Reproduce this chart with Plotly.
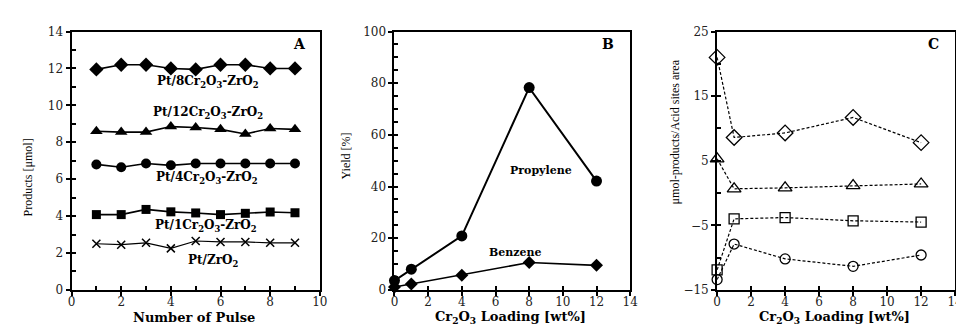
import plotly.graph_objects as go

# ---------------- Data ----------------
pulse = [1, 2, 3, 4, 5, 6, 7, 8, 9]
a_8cr = [11.95, 12.2, 12.2, 12.0, 11.95, 12.2, 12.2, 12.0, 12.0]
a_12cr = [8.6, 8.55, 8.55, 8.85, 8.8, 8.7, 8.45, 8.75, 8.7]
a_4cr = [6.8, 6.65, 6.85, 6.75, 6.85, 6.85, 6.85, 6.85, 6.85]
a_1cr = [4.08, 4.08, 4.36, 4.23, 4.17, 4.08, 4.15, 4.22, 4.18]
a_zro2 = [2.5, 2.45, 2.55, 2.25, 2.65, 2.6, 2.6, 2.55, 2.55]
a_labels = ["Pt/8Cr<sub>2</sub>O<sub>3</sub>-ZrO<sub>2</sub>",
            "Pt/12Cr<sub>2</sub>O<sub>3</sub>-ZrO<sub>2</sub>",
            "Pt/4Cr<sub>2</sub>O<sub>3</sub>-ZrO<sub>2</sub>",
            "Pt/1Cr<sub>2</sub>O<sub>3</sub>-ZrO<sub>2</sub>",
            "Pt/ZrO<sub>2</sub>"]
a_label_x = [5.5, 5.5, 5.45, 5.4, 5.7]
a_label_y = [11.27, 9.57, 6.08, 3.45, 1.59]

loading = [0, 1, 4, 8, 12]
b_propylene = [3.6, 8.0, 20.9, 78.3, 42.1]
b_benzene = [1.1, 2.3, 5.7, 10.6, 9.5]

c_diamond = [21.0, 8.6, 9.3, 11.7, 7.8]
c_triangle = [5.3, 0.65, 0.8, 1.15, 1.4]
c_square = [-11.9, -4.0, -3.8, -4.3, -4.5]
c_circle = [-13.4, -7.9, -10.2, -11.35, -9.6]

# ---------------- Layout helpers ----------------
W, H = 964, 324
SERIF = "Liberation Serif, Times New Roman, serif"
WIDE = "DejaVu Serif, serif"
top_px, bot_px = 17.3, 287.3
ydom = [1 - bot_px / H, 1 - top_px / H]
xdoms = [[60.3 / W, 311.7 / W], [387.3 / W, 626 / W], [714 / W, 955 / W]]

fig = go.Figure()

line_k = dict(color="black", width=1.6)

# Panel A
fig.add_trace(go.Scatter(x=pulse, y=a_8cr, mode="lines+markers", line=line_k,
                         marker=dict(symbol="diamond", size=11, color="black"),
                         xaxis="x", yaxis="y", cliponaxis=False))
fig.add_trace(go.Scatter(x=pulse, y=a_12cr, mode="lines+markers", line=line_k,
                         marker=dict(symbol="triangle-up", size=11, color="black"),
                         xaxis="x", yaxis="y", cliponaxis=False))
fig.add_trace(go.Scatter(x=pulse, y=a_4cr, mode="lines+markers", line=line_k,
                         marker=dict(symbol="circle", size=10, color="black"),
                         xaxis="x", yaxis="y", cliponaxis=False))
fig.add_trace(go.Scatter(x=pulse, y=a_1cr, mode="lines+markers", line=line_k,
                         marker=dict(symbol="square", size=9, color="black"),
                         xaxis="x", yaxis="y", cliponaxis=False))
fig.add_trace(go.Scatter(x=pulse, y=a_zro2, mode="lines+markers", line=dict(color="black", width=1.2),
                         marker=dict(symbol="x-thin-open", size=8, color="black",
                                     line=dict(color="black", width=1.5)),
                         xaxis="x", yaxis="y", cliponaxis=False))

# Panel B
fig.add_trace(go.Scatter(x=loading, y=b_propylene, mode="lines+markers",
                         line=dict(color="black", width=2),
                         marker=dict(symbol="circle", size=11, color="black"),
                         xaxis="x2", yaxis="y2", cliponaxis=False))
fig.add_trace(go.Scatter(x=loading, y=b_benzene, mode="lines+markers",
                         line=dict(color="black", width=1.6),
                         marker=dict(symbol="diamond", size=10, color="black"),
                         xaxis="x2", yaxis="y2", cliponaxis=False))

# Panel C
dline = dict(color="black", width=1.2, dash="3px,2px")
for vals, sym, sz in [(c_diamond, "diamond", 12), (c_triangle, "triangle-up", 12),
                      (c_square, "square", 10), (c_circle, "circle", 10)]:
    fig.add_trace(go.Scatter(x=loading, y=vals, mode="lines+markers", line=dline,
                             marker=dict(symbol=sym, size=sz, color="rgba(255,255,255,0)",
                                         line=dict(color="black", width=1.3)),
                             xaxis="x3", yaxis="y3", cliponaxis=False))

tickfont = dict(family=WIDE, size=12, color="#222")

def main_axis(domain, rng, dtick, anchor, **kw):
    d = dict(domain=domain, range=rng, dtick=dtick, tick0=rng[0], anchor=anchor,
             showgrid=False, zeroline=False, showline=True, linecolor="black",
             linewidth=2, mirror=True, ticks="outside", ticklen=4, tickwidth=2,
             tickcolor="black", tickfont=tickfont)
    d.update(kw)
    return d

def inner_axis(domain, rng, dtick, anchor, overlaying, side):
    return dict(domain=domain, range=rng, dtick=dtick, tick0=rng[0], anchor=anchor,
                overlaying=overlaying, side=side, showgrid=False, zeroline=False,
                showline=False, ticks="inside", ticklen=4, tickwidth=2, tickcolor="black",
                showticklabels=False)

xs = dict(ticklabelstandoff=-4)
layout = dict(
    width=W, height=H, margin=dict(l=0, r=0, t=0, b=0),
    paper_bgcolor="white", plot_bgcolor="white", showlegend=False,
    xaxis=main_axis(xdoms[0], [0, 10], 2, "y", **xs),
    yaxis=main_axis(ydom, [0, 14], 2, "x"),
    xaxis2=main_axis(xdoms[1], [0, 14], 2, "y2", **xs),
    yaxis2=main_axis(ydom, [0, 100], 20, "x2"),
    xaxis3=main_axis(xdoms[2], [0, 14], 2, "y3", **xs),
    yaxis3=main_axis(ydom, [-15, 25], 10, "x3"),
    # inner (crossing) tick overlays
    xaxis4=inner_axis(xdoms[0], [0, 10], 1, "y", "x", "bottom"),
    yaxis4=inner_axis(ydom, [0, 14], 1, "x", "y", "left"),
    xaxis5=inner_axis(xdoms[1], [0, 14], 2, "y2", "x2", "bottom"),
    yaxis5=inner_axis(ydom, [0, 100], 5, "x2", "y2", "left"),
    xaxis6=inner_axis(xdoms[2], [0, 14], 2, "y3", "x3", "bottom"),
    yaxis6=inner_axis(ydom, [-15, 25], 5, "x3", "y3", "left"),
)
fig.update_layout(**layout)
# invisible traces so overlay axes render
for xa, ya in [("x4", "y4"), ("x5", "y5"), ("x6", "y6")]:
    fig.add_trace(go.Scatter(x=[None], y=[None], xaxis=xa, yaxis=ya, showlegend=False,
                             hoverinfo="skip"))

ann = []
def add(text, x, y, xref, yref, font, angle=0):
    ann.append(dict(text=text, x=x, y=y, xref=xref, yref=yref, showarrow=False,
                    xanchor="center", yanchor="middle", textangle=angle, font=font))

lab_font = dict(family=WIDE, size=12, color="black")
for t, x, y in zip(a_labels, a_label_x, a_label_y):
    add("<b>" + t + "</b>", x, y, "x", "y", lab_font)
add("<b>Propylene</b>", 8.7, 46.1, "x2", "y2", dict(family=WIDE, size=11, color="black"))
add("<b>Benzene</b>", 7.2, 14.4, "x2", "y2", dict(family=WIDE, size=11, color="black"))
panel_font = dict(family=WIDE, size=14, color="black")
add("<b>A</b>", 9.17, 13.3, "x", "y", panel_font)
add("<b>B</b>", 12.7, 95, "x2", "y2", panel_font)
add("<b>C</b>", 12.74, 23.0, "x3", "y3", panel_font)

# axis titles
title_font = dict(family=WIDE, size=13, color="black")
add("<b>Number of Pulse</b>", 184 / W, 1 - 316 / H, "paper", "paper", title_font)
for xc in [(387.3 + 626) / 2 - 2, (714 + 955) / 2 - 2]:
    add("<b>Cr<sub>2</sub>O<sub>3</sub> Loading [wt%]</b>", xc / W, 1 - 316 / H, "paper", "paper", title_font)
add("Products [μmol]", 16 / W, 1 - 170 / H, "paper", "paper",
    dict(family=SERIF, size=12, color="black"), -90)
add("Yield [%]", 338 / W, 1 - 147 / H, "paper", "paper",
    dict(family=SERIF, size=12, color="black"), -90)
add("μmol-products/Acid sites area", 671 / W, 1 - 122 / H, "paper", "paper",
    dict(family=SERIF, size=12, color="black"), -90)
fig.update_layout(annotations=ann)

fig.write_html("out.html")
